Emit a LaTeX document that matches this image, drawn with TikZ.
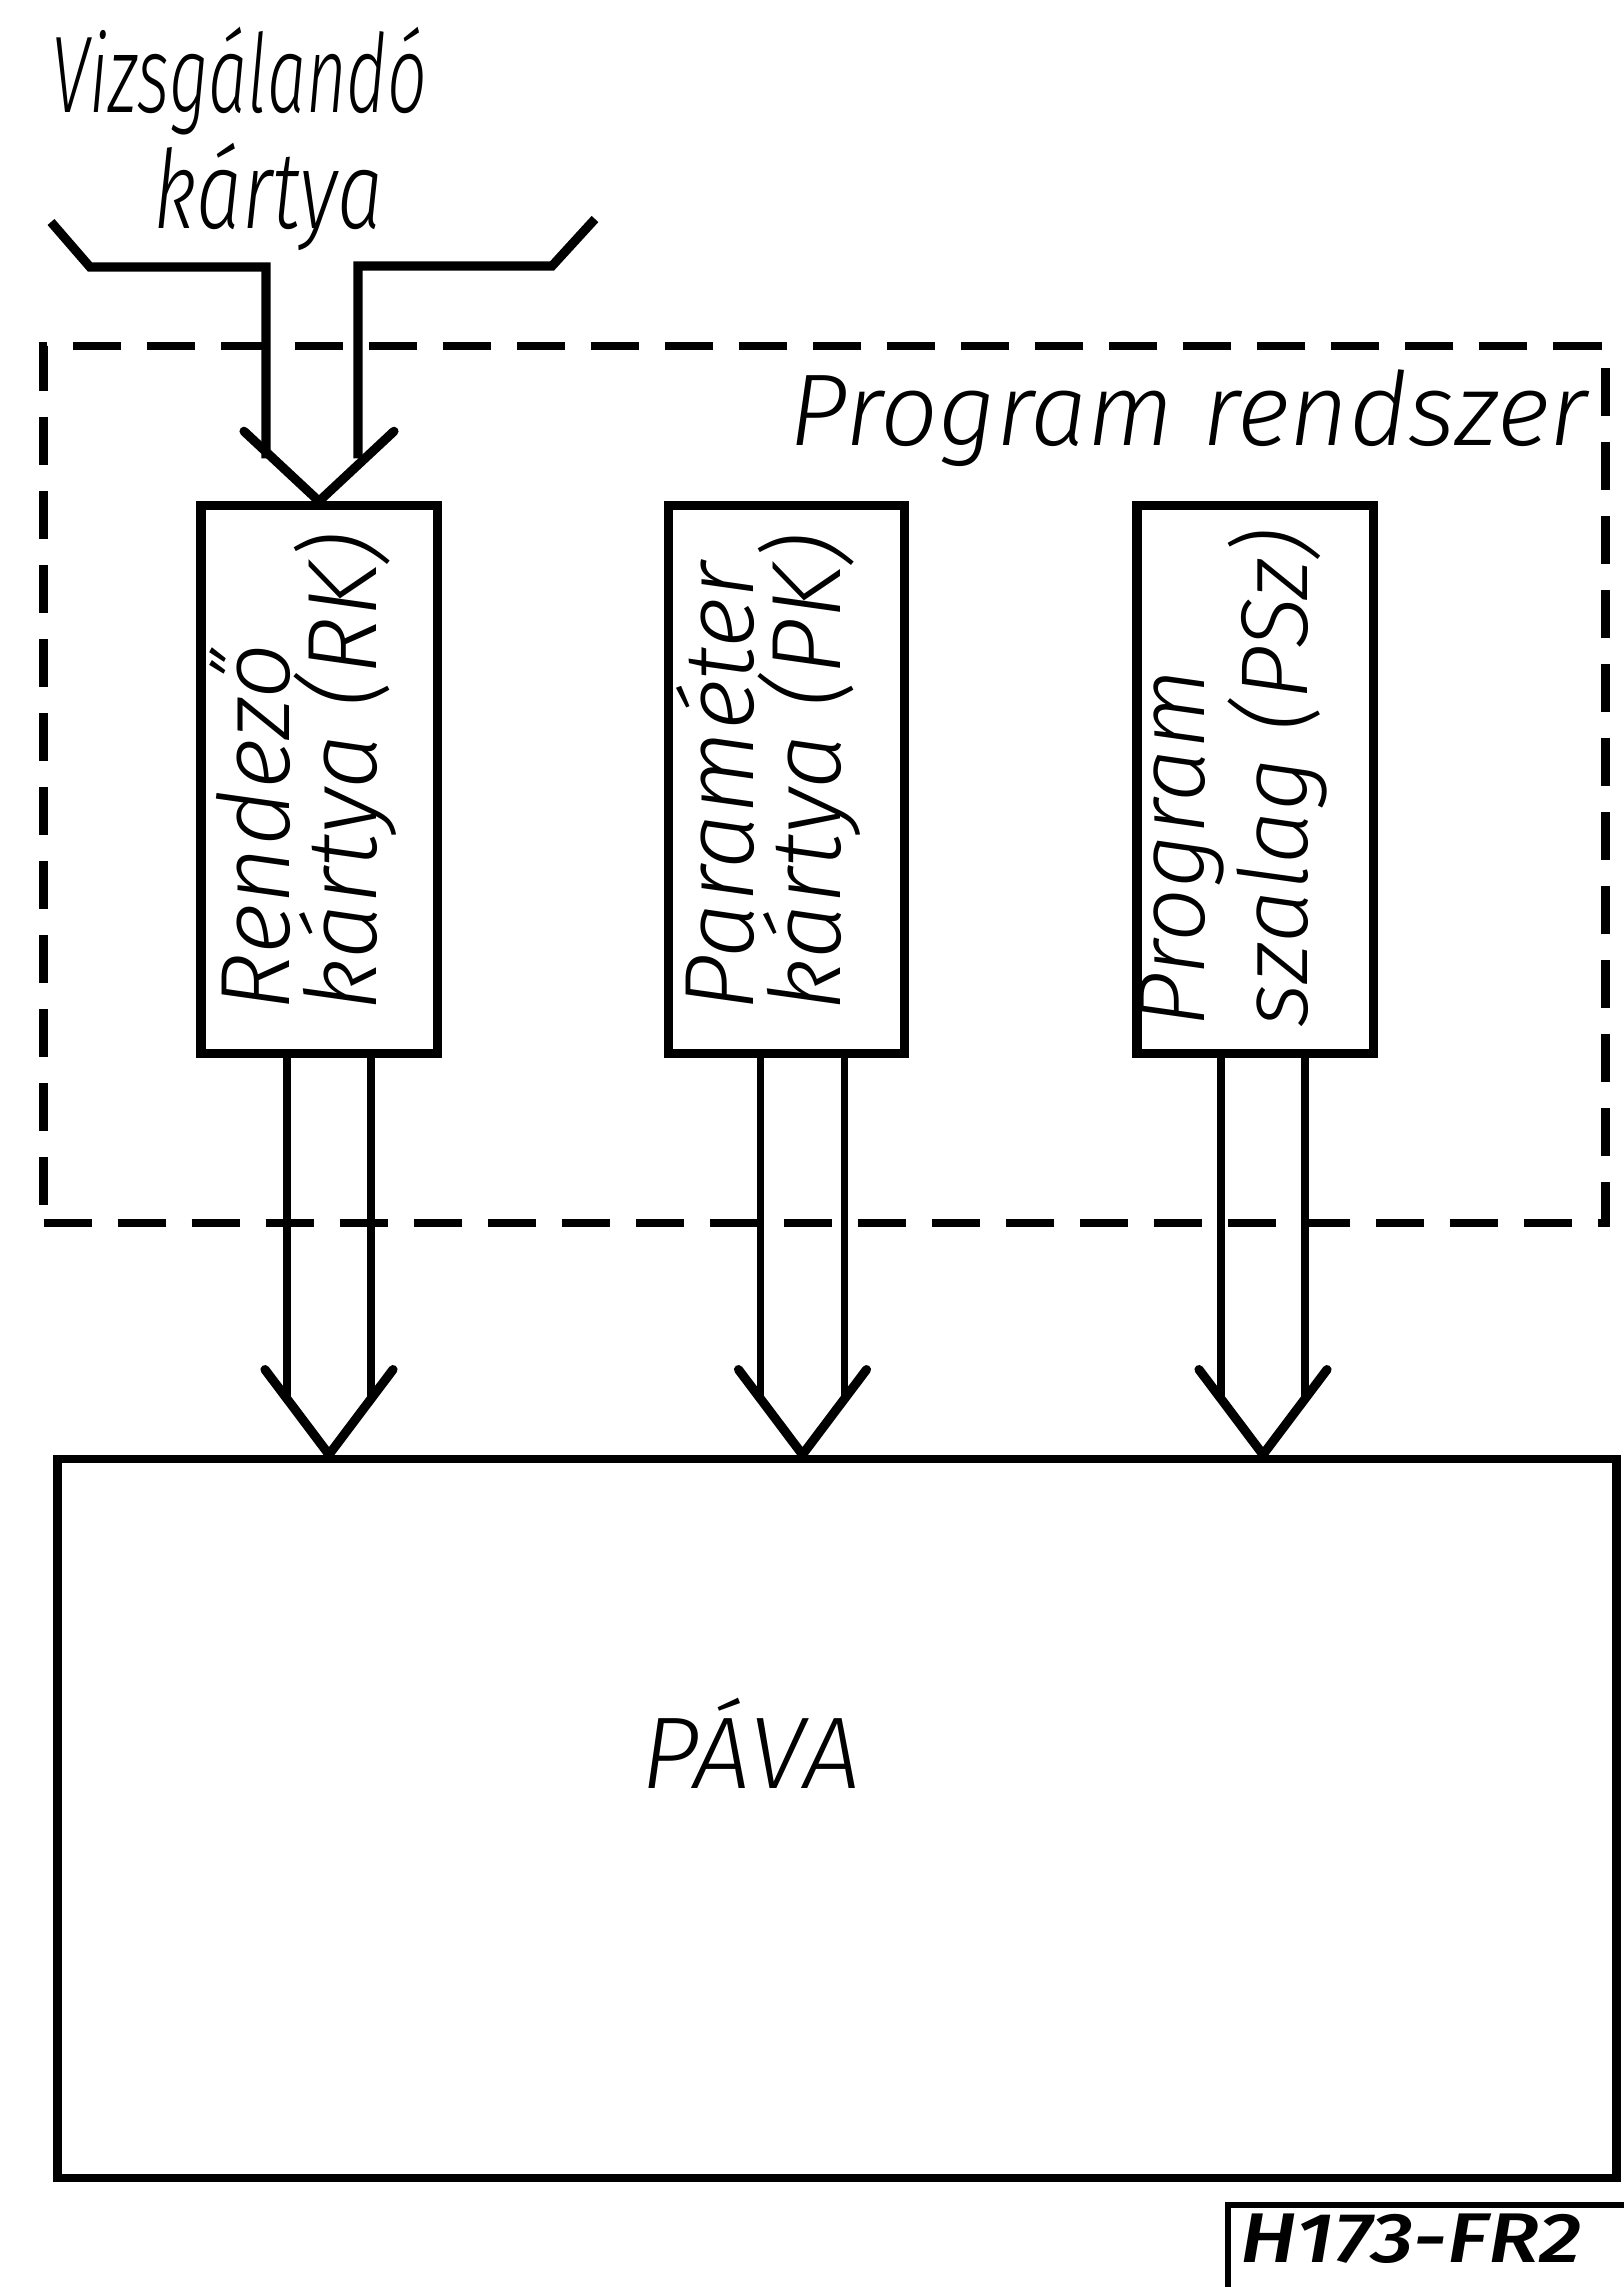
\documentclass[tikz,border=0pt]{standalone}
\usepackage{fontspec}
\usepackage{tikz}
\usetikzlibrary{calc,positioning}
\newfontfamily\letterfont{Fira Sans}[ItalicFont={Fira Sans Light Italic}, BoldItalicFont={Fira Sans Medium Italic}]

\begin{document}
\begin{tikzpicture}[x=0.01cm, y=-0.01cm,
    unit/.style={draw, line width=2.6pt, minimum width=2.36cm, minimum height=5.47cm, inner sep=0pt},
    lettering/.style={font=\letterfont\itshape\fontsize{29}{27}\selectfont, inner sep=0pt},
    bigletter/.style={lettering, font=\letterfont\itshape\fontsize{31}{31}\selectfont},
    sideways/.style={lettering, font=\letterfont\itshape\fontsize{28}{23}\selectfont, rotate=90, anchor=west, align=left},
    bus/.style={line width=2pt},
    feed/.style={line width=2.6pt, line join=miter},
    head/.style={line width=2.6pt, line cap=round},
    frame/.style={draw, line width=2.4pt, dash pattern=on 0.48cm off 0.26cm}]

    \useasboundingbox (0,0) rectangle (1624,2287);

    % Program system frame
    \node[frame, minimum width=15.61cm, minimum height=8.77cm] (sys) at (824.5,784.5) {};
    \node[lettering, anchor=base east] (sysname) at (1588,445) {Program rendszer};

    % Units inside the frame
    \node[unit] (rk) at (319,779.5) {};
    \node[unit] (pk) at (786.5,779.5) {};
    \node[unit] (psz) at (1255,779.5) {};

    % Unit labels
    \node[sideways] (rktext) at ($(rk.south)+(-16,-46)$) {Rendező\\kártya (RK)};
    \node[sideways] (pktext) at ($(pk.south)+(-18,-46)$) {Paraméter\\kártya (PK)};
    \node[sideways, font=\letterfont\itshape\fontsize{27}{23}\selectfont] (psztext) at ($(psz.south)+(-22,-30)$) {Program\\szalag (PSz)};

    % Main block
    \node[draw, line width=2.4pt, minimum width=15.58cm, minimum height=7.19cm] (pava) at (837,1818.5) {};
    \node[lettering] (pavatext) at ($(pava.center)+(-86,-75)$) {PÁVA};

    % Card to be tested
    \node[bigletter, anchor=base west, xscale=0.64] (in1) at (51,112) {Vizsgálandó};
    \node[bigletter, anchor=base west, xscale=0.75] (in2) at (153,228) {kártya};
    \coordinate (inL) at (51,222);
    \coordinate (inLk) at (90,267);
    \coordinate (inR) at (595,219);
    \coordinate (inRk) at (552,266);

    \draw[feed] (inL) -- (inLk) -| ($(rk.north)+(-53,-43)$);
    \draw[feed] (inR) -- (inRk) -| ($(rk.north)+(39,-43)$);
    \draw[head] ($(rk.north)+(-75,-70)$) -- (rk.north) -- ($(rk.north)+(75,-70)$);

    % Connections to PAVA
    \foreach \b/\dx in {rk/10, pk/16, psz/8} {
        \coordinate (tip\b) at ($(\b.south |- pava.north)+(\dx,0)$);
        \draw[bus] ($(\b.south)+(\dx-42,0)$) -- ($(tip\b)+(-42,-56)$);
        \draw[bus] ($(\b.south)+(\dx+42,0)$) -- ($(tip\b)+(42,-56)$);
        \draw[head] ($(tip\b)+(-64,-85)$) -- (tip\b) -- ($(tip\b)+(64,-85)$);
    }

    % Drawing code
    \node[font=\letterfont\itshape\bfseries\fontsize{20}{20}\selectfont, anchor=base west, inner sep=0pt, xscale=1.2] (code) at (1240,2262) {H173-FR2};
    \draw[line width=1.8pt] ($(code.south west)+(-12,40)$) |- ($(code.north east)+(60,-8)$);
\end{tikzpicture}
\end{document}
